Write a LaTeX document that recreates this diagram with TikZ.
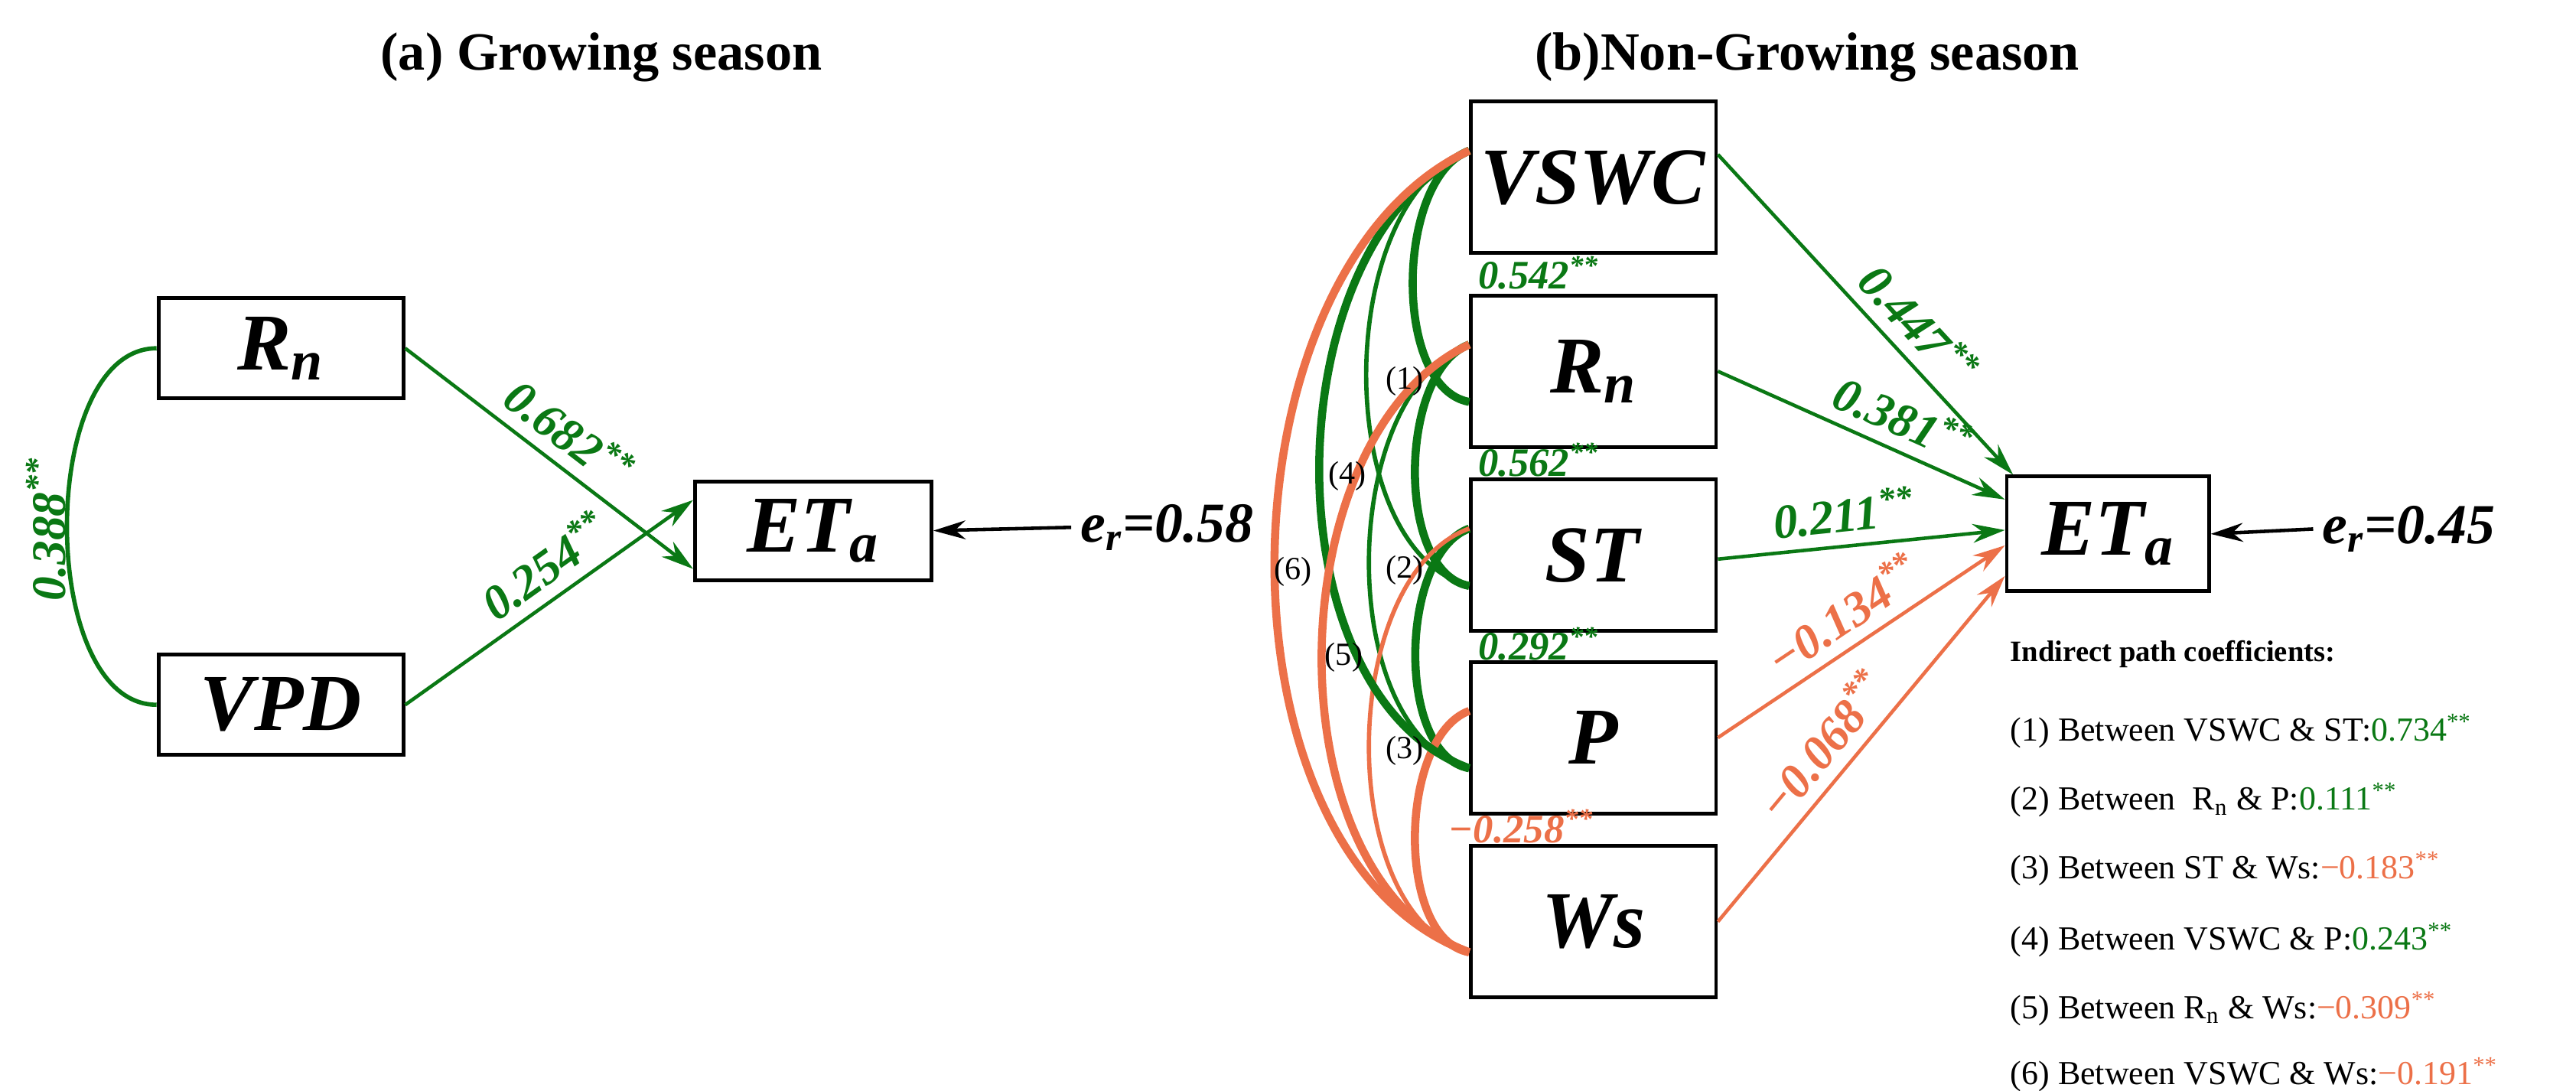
\documentclass[tikz,border=0pt]{standalone}
\usepackage{fontspec}
\setmainfont{Liberation Serif}
\usepackage{tikz}
\usetikzlibrary{arrows.meta}

\definecolor{pgreen}{RGB}{10,120,20}
\definecolor{porange}{RGB}{236,112,72}
\newcommand{\coef}[1]{\textbf{\textit{#1}}\textsuperscript{\textbf{\textit{**}}}}
\newcommand{\var}[1]{\fontsize{30}{32}\selectfont\textbf{\textit{#1}}}

\tikzset{
  box/.style={draw, line width=1.4pt, minimum width=3.2cm, minimum height=#1, inner sep=0pt},
  path/.style={-{Stealth[length=12pt,width=7pt]}, line width=1.3pt},
  coefl/.style={font=\fontsize{18}{20}\selectfont, sloped, above=1pt},
  corrl/.style={font=\fontsize{15}{16}\selectfont, anchor=west, inner sep=1pt},
  corr/.style={line width=1.6pt},
  adj/.style={line width=3pt},
  tag/.style={font=\fontsize{12}{13}\selectfont},
  legend/.style={font=\fontsize{12.5}{14}\selectfont, anchor=west}
}

\begin{document}
\begin{tikzpicture}[x=0.02147cm, y=-0.02147cm]
             \useasboundingbox (0,0) rectangle (1568,664);

             % titles
             \node[font=\fontsize{20}{22}\selectfont\bfseries] (ta) at (366,35) {(a) Growing season};
             \node[font=\fontsize{20}{22}\selectfont\bfseries] (tb) at (1100,35) {(b)Non-Growing season};

             % (a)
             \node[box=1.31cm] (rn) at (171,212) {\var{R\textsubscript{n}}};
             \node[box=1.31cm] (vpd) at (171,429) {\var{VPD}};
             \node[box=1.29cm, minimum width=3.09cm] (eta) at (495,323) {\var{ET\textsubscript{a}}};
             \node[anchor=west, font=\fontsize{21}{23}\selectfont] (era) at (652,321) {\textbf{\textit{e\textsubscript{r}=0.58}}};

             \draw[path, pgreen] (rn.east) -- ([yshift=-0.5cm]eta.west)
                node[coefl, pos=0.5, text=pgreen] {\coef{0.682}};
             \draw[path, pgreen] (vpd.east) -- ([yshift=0.4cm]eta.west)
                node[coefl, pos=0.55, text=pgreen] {\coef{0.254}};
             \draw[corr, pgreen] (rn.west) to[out=180, in=180, looseness=0.86] (vpd.west);
             \node[rotate=90, text=pgreen, font=\fontsize{18}{20}\selectfont] (c0) at (28,322) {\coef{0.388}};
             \draw[path, black] (era.west) -- (eta.east);

             % (b)
             \node[box=1.98cm] (vswc) at (970,108) {\var{VSWC}};
             \node[box=1.98cm] (rn2) at (970,226) {\var{R\textsubscript{n}}};
             \node[box=1.98cm] (st) at (970,338) {\var{ST}};
             \node[box=1.98cm] (p) at (970,449) {\var{P}};
             \node[box=1.98cm] (ws) at (970,561) {\var{Ws}};
             \node[box=1.5cm, minimum width=2.64cm] (eta2) at (1283,325) {\var{ET\textsubscript{a}}};
             \node[anchor=west, font=\fontsize{21}{23}\selectfont] (erb) at (1408,322) {\textbf{\textit{e\textsubscript{r}=0.45}}};
             \draw[path, black] (erb.west) -- (eta2.east);

             \draw[path, pgreen] ([yshift=0.3cm]vswc.east) -- ([xshift=3pt]eta2.north west)
                node[coefl, pos=0.6, text=pgreen] {\coef{0.447}};
             \draw[path, pgreen] (rn2.east) -- ([yshift=0.45cm]eta2.west)
                node[coefl, pos=0.6, text=pgreen] {\coef{0.381}};
             \draw[path, pgreen] ([yshift=-0.05cm]st.east) -- ([yshift=0.05cm]eta2.west)
                node[coefl, pos=0.45, text=pgreen] {\coef{0.211}};
             \draw[path, porange] (p.east) -- ([yshift=-0.15cm]eta2.west)
                node[coefl, pos=0.5, text=porange] {\coef{−0.134}};
             \draw[path, porange] (ws.east) -- ([yshift=-0.55cm]eta2.west)
                node[coefl, pos=0.45, text=porange] {\coef{−0.068}};

             % correlations
             \draw[adj, pgreen] ([yshift=0.35cm]vswc.west) to[out=200, in=170, looseness=0.8] ([yshift=-0.4cm]rn2.west);
             \draw[adj, pgreen] ([yshift=0.35cm]rn2.west) to[out=200, in=170, looseness=0.8] ([yshift=-0.4cm]st.west);
             \draw[adj, pgreen] ([yshift=0.35cm]st.west) to[out=200, in=170, looseness=0.8] ([yshift=-0.4cm]p.west);
             \draw[adj, porange] ([yshift=0.35cm]p.west) to[out=200, in=170, looseness=0.8] ([yshift=-0.4cm]ws.west);
             \draw[corr, pgreen] ([yshift=0.35cm]vswc.west) to[out=200, in=165, looseness=0.85] ([yshift=-0.4cm]st.west);
             \draw[corr, pgreen] ([yshift=0.35cm]rn2.west) to[out=200, in=165, looseness=0.85] ([yshift=-0.4cm]p.west);
             \draw[corr, porange] ([yshift=0.35cm]st.west) to[out=200, in=165, looseness=0.85] ([yshift=-0.4cm]ws.west);
             \draw[adj, pgreen] ([yshift=0.35cm]vswc.west) to[out=205, in=160, looseness=0.9] ([yshift=-0.4cm]p.west);
             \draw[adj, porange] ([yshift=0.35cm]rn2.west) to[out=205, in=160, looseness=0.9] ([yshift=-0.4cm]ws.west);
             \draw[adj, porange] ([yshift=0.35cm]vswc.west) to[out=205, in=160, looseness=0.9] ([yshift=-0.4cm]ws.west);

             \node[corrl, text=pgreen] (c1) at (898,166) {\coef{0.542}};
             \node[corrl, text=pgreen] (c2) at (898,280) {\coef{0.562}};
             \node[corrl, text=pgreen] (c3) at (898,392) {\coef{0.292}};
             \node[corrl, text=porange] (c4) at (880,503) {\coef{−0.258}};

             \node[tag] (t1) at (855,232) {(1)};
             \node[tag] (t4) at (820,290) {(4)};
             \node[tag] (t6) at (787,348) {(6)};
             \node[tag] (t2) at (855,347) {(2)};
             \node[tag] (t5) at (818,400) {(5)};
             \node[tag] (t3) at (855,457) {(3)};

             % legend
             \node[legend, font=\fontsize{11}{13}\selectfont\bfseries] (lh) at (1218,398) {Indirect path coefficients:};
             \node[legend] (l1) at (1218,445) {(1) Between VSWC \& ST:\textcolor{pgreen}{0.734\textsuperscript{**}}};
             \node[legend] (l2) at (1218,487) {(2) Between \ R\textsubscript{n} \& P:\textcolor{pgreen}{0.111\textsuperscript{**}}};
             \node[legend] (l3) at (1218,529) {(3) Between ST \& Ws:\textcolor{porange}{−0.183\textsuperscript{**}}};
             \node[legend] (l4) at (1218,572) {(4) Between VSWC \& P:\textcolor{pgreen}{0.243\textsuperscript{**}}};
             \node[legend] (l5) at (1218,614) {(5) Between R\textsubscript{n} \& Ws:\textcolor{porange}{−0.309\textsuperscript{**}}};
             \node[legend] (l6) at (1218,654) {(6) Between VSWC \& Ws:\textcolor{porange}{−0.191\textsuperscript{**}}};
\end{tikzpicture}
\end{document}
